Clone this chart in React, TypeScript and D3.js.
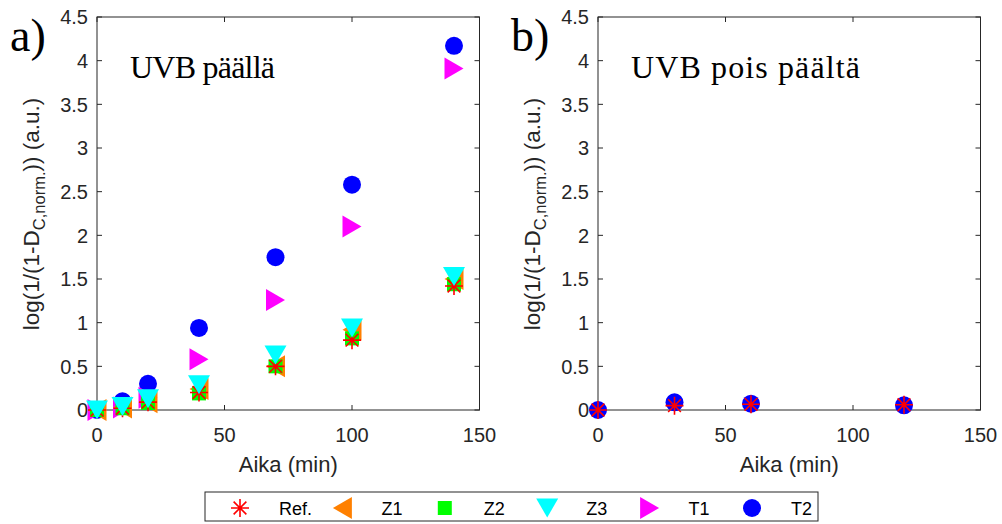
import React from "react";
import * as d3 from "d3";

// Panel a: UVB on
const timeA = [0, 10, 20, 40, 70, 100, 140];
const refA = [0, 0.02, 0.09, 0.2, 0.5, 0.8, 1.42];
const z1A = [0, 0.03, 0.09, 0.24, 0.5, 0.92, 1.5];
const z2A = [0, 0.02, 0.08, 0.19, 0.5, 0.82, 1.44];
const z3A = [0, 0.04, 0.13, 0.29, 0.63, 0.94, 1.53];
const t1A = [0, 0.03, 0.14, 0.58, 1.26, 2.1, 3.91];
const t2A = [0, 0.1, 0.3, 0.94, 1.75, 2.58, 4.17];

// Panel b: UVB off
const timeB = [0, 30, 60, 120];
const refB = [0, 0.05, 0.065, 0.06];
const t2B = [0, 0.088, 0.072, 0.054];

const xTicks = [0, 50, 100, 150];
const yTicks = [0, 0.5, 1, 1.5, 2, 2.5, 3, 3.5, 4, 4.5];

const seriesNames = ["Ref.", "Z1", "Z2", "Z3", "T1", "T2"];

type Kind = "star" | "left" | "square" | "down" | "right" | "circle";
const STYLE: Record<string, { kind: Kind; color: string }> = {
  "Ref.": { kind: "star", color: "#ff0000" },
  Z1: { kind: "left", color: "#ff8000" },
  Z2: { kind: "square", color: "#00ff00" },
  Z3: { kind: "down", color: "#00ffff" },
  T1: { kind: "right", color: "#ff00ff" },
  T2: { kind: "circle", color: "#0000ff" },
};

const W = 1002;
const H = 524;
const TOP = 17;
const BOTTOM = 410;
const AXIS = "#262626";
const SANS = "'Liberation Sans', Arial, Helvetica, sans-serif";
const SERIF = "'Liberation Serif', 'Times New Roman', serif";

function markerPath(kind: Kind): string {
  const p = d3.path();
  switch (kind) {
    case "star": {
      const r = 9;
      const d = r * Math.SQRT1_2;
      p.moveTo(-r, 0); p.lineTo(r, 0);
      p.moveTo(0, -r); p.lineTo(0, r);
      p.moveTo(-d, -d); p.lineTo(d, d);
      p.moveTo(-d, d); p.lineTo(d, -d);
      break;
    }
    case "left":
      p.moveTo(-9.5, 0); p.lineTo(9.5, -11); p.lineTo(9.5, 11); p.closePath();
      break;
    case "right":
      p.moveTo(9.5, 0); p.lineTo(-9.5, -11); p.lineTo(-9.5, 11); p.closePath();
      break;
    case "down":
      p.moveTo(-11, -9.5); p.lineTo(11, -9.5); p.lineTo(0, 9.5); p.closePath();
      break;
    case "square":
      p.rect(-7, -7, 14, 14);
      break;
    case "circle":
      p.arc(0, 0, 9, 0, Math.PI * 2);
      break;
  }
  return p.toString();
}

function Marker({ name, x, y }: { name: string; x: number; y: number }) {
  const s = STYLE[name];
  const d = markerPath(s.kind);
  if (s.kind === "star") {
    return <path d={d} transform={`translate(${x},${y})`} stroke={s.color} strokeWidth={1.6} fill="none" />;
  }
  return <path d={d} transform={`translate(${x},${y})`} fill={s.color} stroke="none" />;
}

type Series = { name: string; t: number[]; v: number[] };

function Panel({
  x0, x1, letter, title, titleWidth, series,
}: { x0: number; x1: number; letter: string; title: string; titleWidth: number; series: Series[] }) {
  const xs = d3.scaleLinear().domain([0, 150]).range([x0, x1]);
  const ys = d3.scaleLinear().domain([0, 4.5]).range([BOTTOM, TOP]);
  const tl = 5;
  return (
    <g>
      {/* axes box with mirrored inward ticks */}
      <rect x={x0} y={TOP} width={x1 - x0} height={BOTTOM - TOP} fill="white" stroke={AXIS} strokeWidth={1} />
      {yTicks.map((t) => (
        <g key={"y" + t}>
          <line x1={x0} x2={x0 + tl} y1={ys(t)} y2={ys(t)} stroke={AXIS} />
          <line x1={x1} x2={x1 - tl} y1={ys(t)} y2={ys(t)} stroke={AXIS} />
          <text x={x0 - 9} y={ys(t)} dy="0.36em" textAnchor="end" fontFamily={SANS} fontSize={20} fill={AXIS}>
            {String(t)}
          </text>
        </g>
      ))}
      {xTicks.map((t) => (
        <g key={"x" + t}>
          <line x1={xs(t)} x2={xs(t)} y1={BOTTOM} y2={BOTTOM - tl} stroke={AXIS} />
          <line x1={xs(t)} x2={xs(t)} y1={TOP} y2={TOP + tl} stroke={AXIS} />
          <text x={xs(t)} y={442} textAnchor="middle" fontFamily={SANS} fontSize={20} fill={AXIS}>
            {String(t)}
          </text>
        </g>
      ))}
      <text x={(x0 + x1) / 2} y={472} textAnchor="middle" fontFamily={SANS} fontSize={22} fill={AXIS}>
        Aika (min)
      </text>
      <text transform={`translate(${x0 - 58},${214}) rotate(-90)`} textAnchor="middle" fontFamily={SANS} fontSize={22.5} fill={AXIS}>
        log(1/(1-D<tspan fontSize={16.5} dy={6}>C,norm.</tspan><tspan dy={-6}>)) (a.u.)</tspan>
      </text>
      <text x={x0 - 87} y={51} fontFamily={SERIF} fontSize={46} fill="#000">{letter}</text>
      <text x={x0 + 33} y={78} fontFamily={SERIF} fontSize={32} fill="#000" textLength={titleWidth} lengthAdjust="spacing">
        {title}
      </text>
      {series.map((s) => (
        <g key={s.name}>
          {s.t.map((t, i) => (
            <Marker key={i} name={s.name} x={xs(t)} y={ys(s.v[i])} />
          ))}
        </g>
      ))}
    </g>
  );
}

function Legend() {
  const lx = d3.scalePoint().domain(seriesNames).range([240, 752]);
  return (
    <g>
      <rect x={205} y={492} width={613} height={29} fill="white" stroke={AXIS} strokeWidth={1} />
      {seriesNames.map((n) => (
        <g key={n}>
          <Marker name={n} x={lx(n)!} y={508} />
          <text x={lx(n)! + 39} y={515} fontFamily={SANS} fontSize={18} fill="#000">{n}</text>
        </g>
      ))}
    </g>
  );
}

export default function App() {
  // draw order keeps the cyan triangles above the circles
  const seriesA: Series[] = [
    { name: "T2", t: timeA, v: t2A },
    { name: "T1", t: timeA, v: t1A },
    { name: "Z1", t: timeA, v: z1A },
    { name: "Z2", t: timeA, v: z2A },
    { name: "Ref.", t: timeA, v: refA },
    { name: "Z3", t: timeA, v: z3A },
  ];
  const seriesB: Series[] = [
    { name: "T2", t: timeB, v: t2B },
    { name: "Ref.", t: timeB, v: refB },
  ];
  return (
    <svg width={W} height={H} style={{ position: "fixed", left: 0, top: 0, background: "white" }}>
      <rect width={W} height={H} fill="white" />
      <Panel x0={97} x1={479.5} letter="a)" title="UVB päällä" titleWidth={145} series={seriesA} />
      <Panel x0={598} x1={980.5} letter="b)" title="UVB pois päältä" titleWidth={229} series={seriesB} />
      <Legend />
    </svg>
  );
}
